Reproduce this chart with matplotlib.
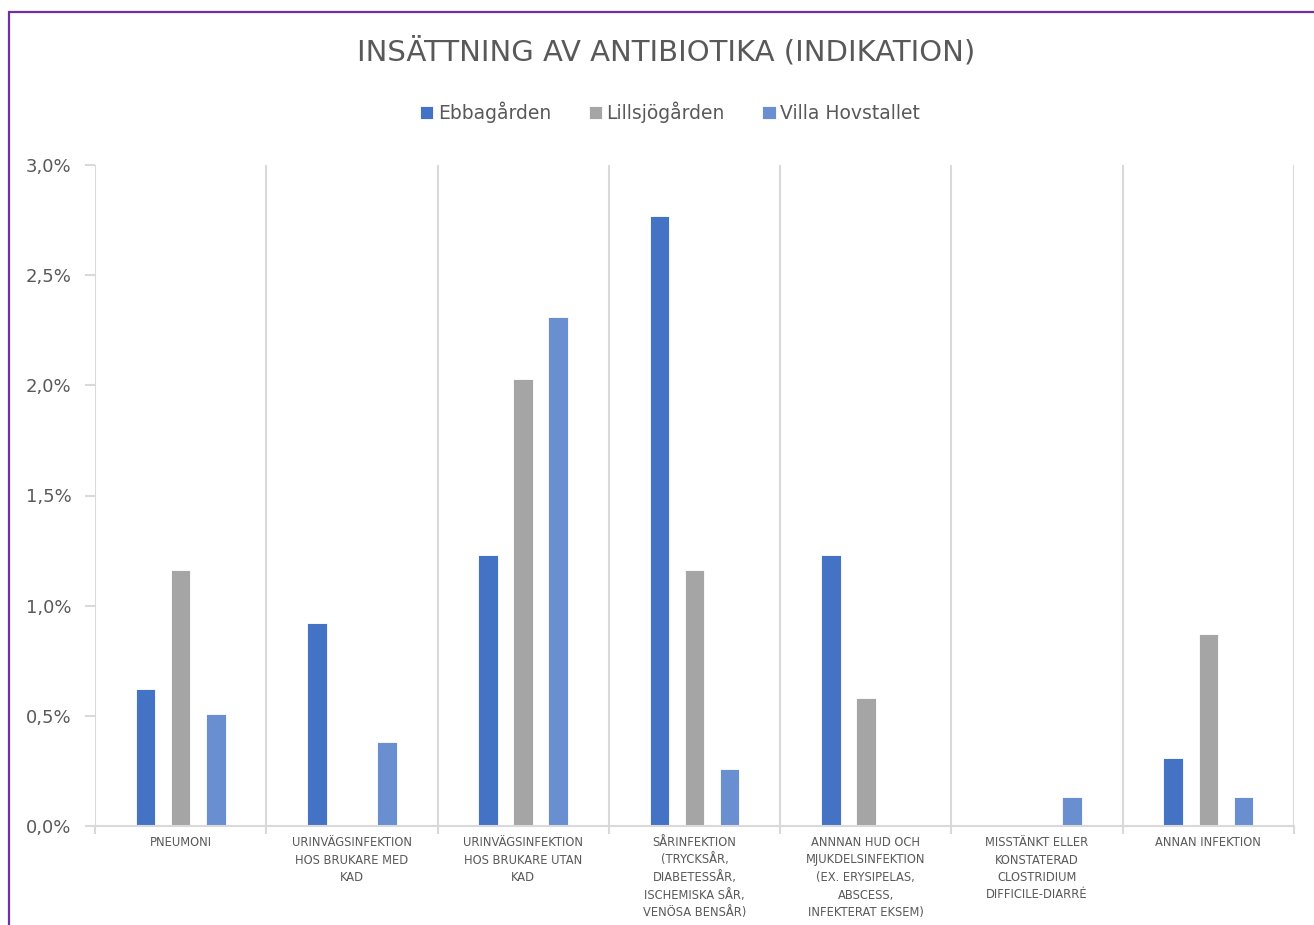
import numpy as np
import matplotlib
matplotlib.use("Agg")
import matplotlib.pyplot as plt
from matplotlib.patches import Rectangle
from matplotlib.ticker import FuncFormatter, MultipleLocator
import matplotlib.transforms as mtransforms

# Data (procent)
kategorier = [
    "PNEUMONI",
    "URINVÄGSINFEKTION\nHOS BRUKARE MED\nKAD",
    "URINVÄGSINFEKTION\nHOS BRUKARE UTAN\nKAD",
    "SÅRINFEKTION\n(TRYCKSÅR,\nDIABETESSÅR,\nISCHEMISKA SÅR,\nVENÖSA BENSÅR)",
    "ANNNAN HUD OCH\nMJUKDELSINFEKTION\n(EX. ERYSIPELAS,\nABSCESS,\nINFEKTERAT EKSEM)",
    "MISSTÄNKT ELLER\nKONSTATERAD\nCLOSTRIDIUM\nDIFFICILE-DIARRÉ",
    "ANNAN INFEKTION",
]
serier = ["Ebbagården", "Lillsjögården", "Villa Hovstallet"]
ebbagarden = [0.62, 0.92, 1.23, 2.77, 1.23, 0.0, 0.31]
lillsjogarden = [1.16, 0.0, 2.03, 1.16, 0.58, 0.0, 0.87]
villa_hovstallet = [0.51, 0.38, 2.31, 0.26, 0.0, 0.13, 0.13]

farger = ["#4472C4", "#A5A5A5", "#6A8FD0"]
gra = "#595959"
linje = "#D9D9D9"

fig = plt.figure(figsize=(13.14, 9.25), dpi=100)
ax = fig.add_axes([95 / 1314, 1 - 826 / 925, (1294 - 95) / 1314, (826 - 165) / 925])

x = np.arange(len(kategorier))
bredd = 0.115
for i, (namn, varden) in enumerate(zip(serier, [ebbagarden, lillsjogarden, villa_hovstallet])):
    ax.bar(x + (i - 1) * 0.205, varden, bredd, color=farger[i], label=namn,
           edgecolor="white", linewidth=0.6, zorder=2)

ax.set_xlim(-0.5, len(kategorier) - 0.5)
ax.set_ylim(0, 3.0)
ax.yaxis.set_major_locator(MultipleLocator(0.5))
ax.yaxis.set_major_formatter(FuncFormatter(lambda v, p: f"{v:.1f}%".replace(".", ",")))

# vertikala stödlinjer mellan kategorierna
granser = np.arange(len(kategorier) + 1) - 0.5
for g in granser:
    ax.axvline(g, color=linje, linewidth=1.5, zorder=1)
ax.set_xticks(granser)
ax.set_xticklabels([])
ax.tick_params(axis="x", length=6, width=1.5, color=linje, direction="out")
ax.tick_params(axis="y", length=7, width=1.5, color=linje, labelsize=13,
               labelcolor=gra, pad=10)

for s in ["top", "right", "left"]:
    ax.spines[s].set_visible(False)
ax.spines["bottom"].set_color(linje)
ax.spines["bottom"].set_linewidth(1.5)

# kategorietiketter
trans = mtransforms.blended_transform_factory(ax.transData, fig.transFigure)
for xi, etikett in zip(x, kategorier):
    ax.text(xi, 1 - 836 / 925, etikett, transform=trans, ha="center", va="top",
            fontsize=8.3, color=gra, linespacing=1.45)

fig.text(0.507, 1 - 52 / 925, "INSÄTTNING AV ANTIBIOTIKA (INDIKATION)", ha="center",
         va="center", fontsize=21, color=gra)

leg = fig.legend(loc="center", bbox_to_anchor=(0.51, 1 - 112 / 925), ncol=3, frameon=False,
                 fontsize=13.5, handlelength=0.7, handleheight=0.7, handletextpad=0.25,
                 columnspacing=2.0)
for t in leg.get_texts():
    t.set_color(gra)

# lila ram
fig.add_artist(Rectangle((8.5 / 1314, -0.1), 2, 1.1 - 11.5 / 925, transform=fig.transFigure,
                         fill=False, edgecolor="#7030A0", linewidth=1.6))

fig.savefig("out.png", dpi=100)
